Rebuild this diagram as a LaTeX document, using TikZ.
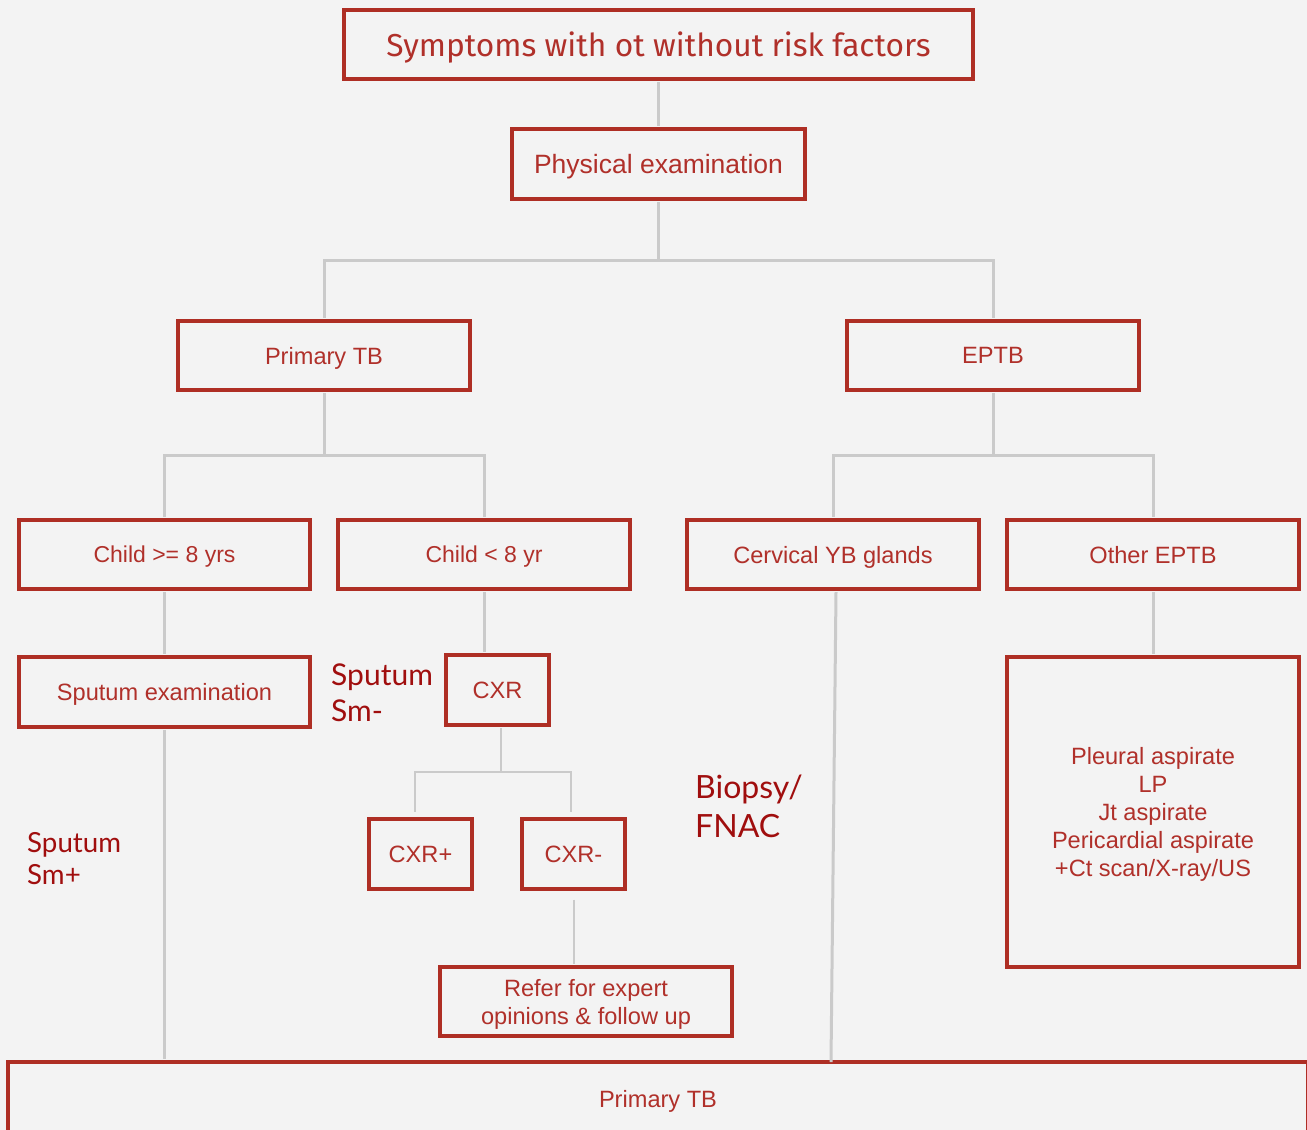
\documentclass[tikz,border=0pt]{standalone}
\usepackage{fontspec}
\setmainfont{Liberation Sans}
\newfontfamily\labfont{Lato}
\newfontfamily\titlefont{Fira Sans}
\definecolor{bgc}{HTML}{F3F3F3}
\definecolor{boxc}{HTML}{AE2E24}
\definecolor{txtc}{HTML}{B0302A}
\definecolor{labc}{HTML}{A00E0E}
\definecolor{conc}{HTML}{CACACA}
\tikzset{
  box/.style={draw=boxc, line width=3.2pt, text=txtc, inner sep=0pt, align=center,
    text depth=0pt, font=\fontsize{23.6}{28}\selectfont},
  conn/.style={draw=conc, line width=3pt},
  thinconn/.style={draw=conc, line width=2pt},
  lab/.style={text=labc, anchor=north west, inner sep=0pt, align=left}
}
\begin{document}
\begin{tikzpicture}[x=1pt,y=-1pt]
\clip (0,0) rectangle (1307,1130);
\fill[bgc] (0,0) rectangle (1307,1130);
% boxes
\node[box, minimum width=629, minimum height=69, font=\titlefont\fontsize{31.7}{36}\selectfont] (top) at (658.5,44.5) {Symptoms with ot without risk factors};
\node[box, minimum width=293, minimum height=70, font=\fontsize{26.5}{30}\selectfont] (phys) at (658.5,164) {Physical examination};
\node[box, minimum width=292, minimum height=69] (ptb) at (324,355.5) {Primary TB};
\node[box, minimum width=292, minimum height=69] (eptb) at (993,355.5) {EPTB};
\node[box, minimum width=291, minimum height=69, font=\fontsize{23}{28}\selectfont] (c8) at (164.5,554.5) {Child >= 8 yrs};
\node[box, minimum width=292, minimum height=69, font=\fontsize{23}{28}\selectfont] (cl8) at (484,554.5) {Child < 8 yr};
\node[box, minimum width=292, minimum height=69] (cerv) at (833,554.5) {Cervical YB glands};
\node[box, minimum width=292, minimum height=69] (oth) at (1153,554.5) {Other EPTB};
\node[box, minimum width=291, minimum height=70] (sput) at (164.5,692) {Sputum examination};
\node[box, minimum width=103, minimum height=70] (cxr) at (497.5,690) {CXR};
\node[box, minimum width=103, minimum height=70] (cxrp) at (420.5,854) {CXR+};
\node[box, minimum width=103, minimum height=70] (cxrm) at (573.5,854) {CXR-};
\node[box, minimum width=292, minimum height=69] (refer) at (586,1001.5) {Refer for expert\\opinions \& follow up};
\node[box, minimum width=292, minimum height=310] (pleu) at (1153,812) {Pleural aspirate\\LP\\Jt aspirate\\Pericardial aspirate\\+Ct scan/X-ray/US};
\node[box, minimum width=1300, minimum height=74] (bot) at (658,1099) {Primary TB};
% labels
\node[lab, font=\labfont\fontsize{30}{36}\selectfont] (lsm) at (331,664) {Sputum\\Sm-};
\node[lab, font=\labfont\fontsize{27.7}{32}\selectfont] (lsp) at (27,832) {Sputum\\Sm+};
\node[lab, font=\labfont\fontsize{32}{39}\selectfont] (lbio) at (695,775) {Biopsy/\\FNAC};
% connectors
\coordinate (j1) at (658.5,260);
\coordinate (j2) at (324,455);
\coordinate (j3) at (993,455);
\coordinate (j4) at (501,772);
\coordinate (cervend) at (831,1062);
\draw[conn] ([yshift=-1.6pt]top.south) -- ([yshift=1.6pt]phys.north);
\draw[conn] ([yshift=-1.6pt]phys.south) -- (j1) -| ([yshift=1.6pt]ptb.north);
\draw[conn] (j1) -| ([yshift=1.6pt]eptb.north);
\draw[conn] ([yshift=-1.6pt]ptb.south) -- (j2) -| ([yshift=1.6pt]c8.north);
\draw[conn] (j2) -| ([yshift=1.6pt]cl8.north);
\draw[conn] ([yshift=-1.6pt]eptb.south) -- (j3) -| ([yshift=1.6pt]cerv.north);
\draw[conn] (j3) -| ([yshift=1.6pt]oth.north);
\draw[conn] ([yshift=-1.6pt]c8.south) -- ([yshift=1.6pt]sput.north);
\draw[conn] ([yshift=-1.6pt]cl8.south) -- ([yshift=1.6pt]cl8.south |- cxr.north);
\draw[conn] ([yshift=-1.6pt]oth.south) -- ([yshift=1.6pt]pleu.north);
\draw[conn] ([yshift=-1.6pt]sput.south) -- ([yshift=1.6pt]sput.south |- bot.north);
\draw[conn] ([xshift=3pt,yshift=-1.6pt]cerv.south) -- (cervend);
\draw[thinconn] ([yshift=-1.6pt]cxr.south -| j4) -- (j4) -| ([xshift=-5.5pt,yshift=5pt]cxrp.north);
\draw[thinconn] (j4) -| ([xshift=-2.5pt,yshift=5pt]cxrm.north);
\draw[thinconn] ([xshift=0.5pt,yshift=-9pt]cxrm.south) -- ([xshift=0.5pt,yshift=1.6pt]cxrm.south |- refer.north);
\end{tikzpicture}
\end{document}
